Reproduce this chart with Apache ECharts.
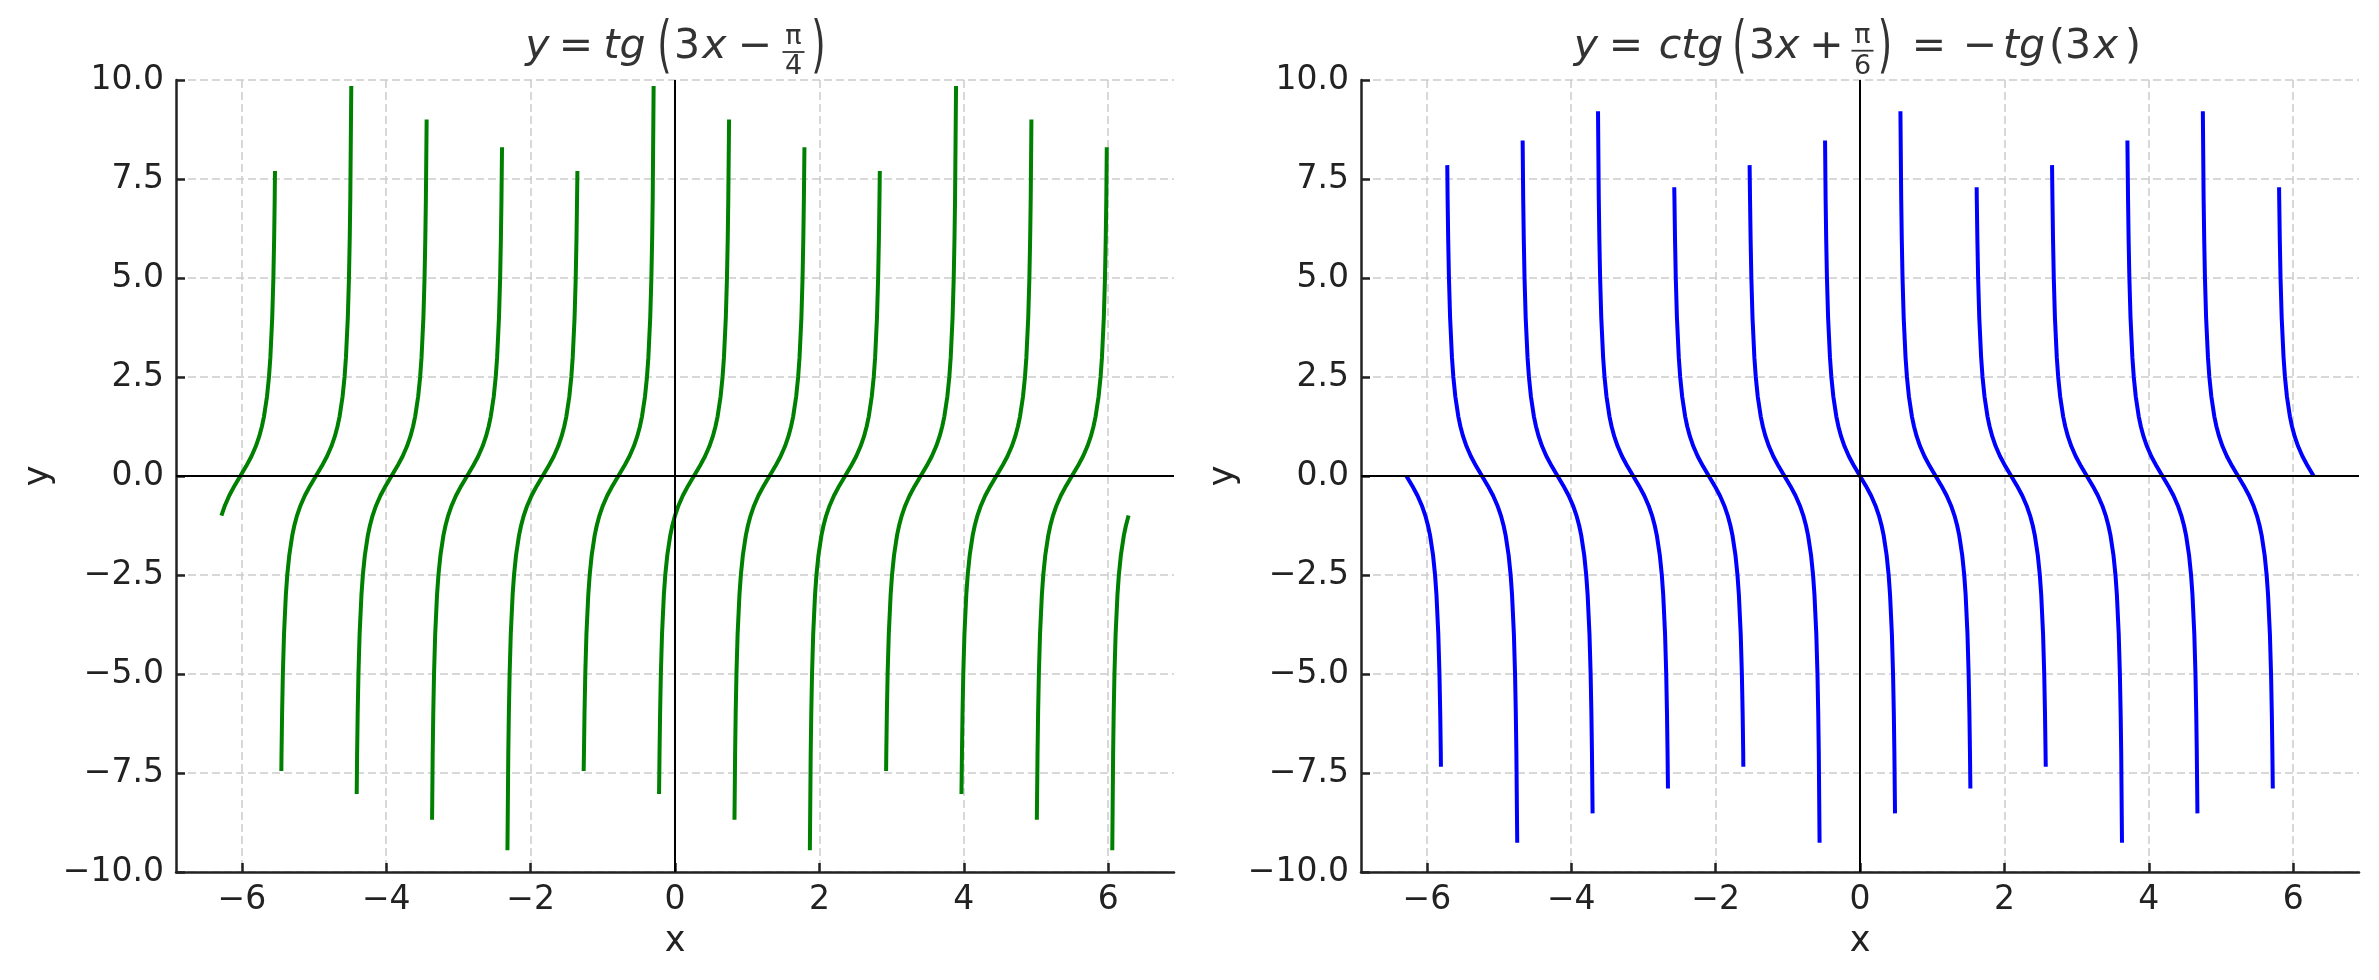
<!DOCTYPE html>
<html>
<head>
<meta charset="utf-8">
<script src="https://cdn.jsdelivr.net/npm/echarts@6/dist/echarts.min.js"></script>
<style>
html,body{margin:0;padding:0;background:#fff;}
#chart{width:2379px;height:980px;}
</style>
</head>
<body>
<div id="chart"></div>
<script>
// ---------------- data ----------------
const xTicks = [-6, -4, -2, 0, 2, 4, 6];
const xRange = [-6.912, 6.912];
const yRange = [-10, 10];
const yStep = 2.5;

// shape of one traced branch, relative to its zero crossing
const branchDx = [-0.4763, -0.4685, -0.4578, -0.4419, -0.4163, -0.3968, -0.3690, -0.3276, -0.2987, -0.2618, -0.2145, -0.1545, -0.0817, 0,
                  0.0817, 0.1545, 0.2145, 0.2618, 0.2987, 0.3276, 0.3690, 0.3968, 0.4163, 0.4419, 0.4578, 0.4685, 0.4763];
const riseY = [-7, -6, -5, -4, -3, -2.5, -2, -1.5, -1.25, -1, -0.75, -0.5, -0.25, 0,
               0.25, 0.5, 0.75, 1, 1.25, 1.5, 2, 2.5, 3, 4, 5, 6, 7];
const fallY = [7, 6, 5, 4, 3, 2.5, 2, 1.5, 1.25, 1, 0.75, 0.5, 0.25, 0,
               -0.25, -0.5, -0.75, -1, -1.25, -1.5, -2, -2.5, -3, -4, -5, -6, -7];

// left panel: y = tg(3x − π/4)
const tgCenters = [-6.021, -4.974, -3.927, -2.880, -1.833, -0.785, 0.262, 1.309, 2.356, 3.403, 4.451, 5.498, 6.545];
const tgStart = [[-6.283, -1], [-5.453, -7.45], [-4.409, -8.03], [-3.365, -8.68], [-2.321, -9.45], [-1.265, -7.45], [-0.221, -8.03], [0.824, -8.68], [1.868, -9.45], [2.924, -7.45], [3.968, -8.03], [5.012, -8.68], [6.057, -9.45]];
const tgEnd = [[-5.541, 7.7], [-4.484, 9.85], [-3.440, 9.0], [-2.396, 8.3], [-1.352, 7.7], [-0.296, 9.85], [0.749, 9.0], [1.793, 8.3], [2.837, 7.7], [3.893, 9.85], [4.937, 9.0], [5.981, 8.3], [6.283, -1]];

// right panel: y = ctg(3x + π/6) = −tg(3x)
const ctgCenters = [-6.283, -5.236, -4.189, -3.142, -2.094, -1.047, 0, 1.047, 2.094, 3.142, 4.189, 5.236, 6.283];
const ctgStart = [[-6.283, 0], [-5.717, 7.85], [-4.673, 8.47], [-3.629, 9.21], [-2.573, 7.29], [-1.529, 7.85], [-0.484, 8.47], [0.560, 9.21], [1.616, 7.29], [2.660, 7.85], [3.704, 8.47], [4.749, 9.21], [5.805, 7.29]];
const ctgEnd = [[-5.805, -7.34], [-4.748, -9.26], [-3.704, -8.52], [-2.660, -7.89], [-1.616, -7.34], [-0.560, -9.26], [0.485, -8.52], [1.529, -7.89], [2.573, -7.34], [3.629, -9.26], [4.674, -8.52], [5.718, -7.89], [6.283, 0]];

// ---------------- build ----------------
function buildBranches(centers, starts, ends, shapeY) {
  return centers.map((c, i) => {
    const s = starts[i], e = ends[i];
    const pts = [s.slice()];
    branchDx.forEach((dx, j) => {
      const x = c + dx;
      if (x > s[0] + 0.001 && x < e[0] - 0.001) pts.push([x, shapeY[j]]);
    });
    pts.push(e.slice());
    return pts;
  });
}
const tgData = buildBranches(tgCenters, tgStart, tgEnd, riseY);
const ctgData = buildBranches(ctgCenters, ctgStart, ctgEnd, fallY);

const FONT = 'DejaVu Sans';
const minus = s => String(s).replace('-', '\u2212');

function makeXAxis(gi) {
  return {
    type: 'value', gridIndex: gi, min: xRange[0], max: xRange[1],
    name: 'x', nameLocation: 'middle', nameGap: 52,
    nameTextStyle: {fontFamily: FONT, fontSize: 35, color: '#222'},
    axisLine: {show: true, onZero: false, lineStyle: {color: '#222', width: 2.5}},
    axisTick: {show: true, inside: true, length: 9, customValues: xTicks, lineStyle: {color: '#222', width: 2.5}},
    axisLabel: {show: true, customValues: xTicks, margin: 12, fontFamily: FONT, fontSize: 33, color: '#222',
      formatter: v => minus(v)},
    splitLine: {show: true, lineStyle: {color: '#cccccc', width: 1.5, type: [8, 4]}}
  };
}
function makeYAxis(gi) {
  return {
    type: 'value', gridIndex: gi, min: yRange[0], max: yRange[1], interval: yStep,
    name: 'y', nameLocation: 'middle', nameGap: 120,
    nameTextStyle: {fontFamily: FONT, fontSize: 35, color: '#222'},
    axisLine: {show: true, onZero: false, lineStyle: {color: '#222', width: 2.5}},
    axisTick: {show: true, inside: true, length: 9, lineStyle: {color: '#222', width: 2.5}},
    axisLabel: {show: true, margin: 12, fontFamily: FONT, fontSize: 33, color: '#222',
      formatter: v => minus(v.toFixed(1))},
    splitLine: {show: true, lineStyle: {color: '#cccccc', width: 1.5, type: [8, 4]}}
  };
}

function makeSeries(data, gi, color) {
  return data.map((pts, i) => {
    const s = {
      type: 'line', xAxisIndex: gi, yAxisIndex: gi, data: pts,
      showSymbol: false, symbol: 'none', smooth: false,
      lineStyle: {color: color, width: 4, join: 'round', cap: 'butt'}, itemStyle: {color: color},
      silent: true, z: 3
    };
    if (i === 0) {
      s.markLine = {
        silent: true, symbol: 'none', animation: false,
        label: {show: false},
        lineStyle: {color: '#000', width: 2, type: 'solid'},
        data: [{xAxis: 0}, {yAxis: 0}]
      };
    }
    return s;
  });
}

// ---------------- title (math-like) ----------------
const TITLE_Y = 47;
const MAIN = 41, SMALL = 27;
function tok(text, cx, opts) {
  opts = opts || {};
  const el = {
    type: 'text', x: cx, y: opts.y != null ? opts.y : TITLE_Y, silent: true,
    style: {
      text: text, x: 0, y: 0, align: 'center', verticalAlign: 'middle',
      fontFamily: FONT, fontSize: opts.size || MAIN, fontStyle: opts.italic ? 'italic' : 'normal',
      fill: '#333333'
    }
  };
  if (opts.sy) { el.scaleY = opts.sy; el.scaleX = opts.sx || 1; }
  return el;
}
function frac(num, den, cx, numY, barY, denY) {
  return [
    tok(num, cx, {size: SMALL, y: numY}),
    {type: 'line', silent: true, shape: {x1: cx - 11, y1: barY, x2: cx + 11, y2: barY},
      style: {stroke: '#333333', lineWidth: 1.8}},
    tok(den, cx, {size: SMALL, y: denY})
  ];
}
const LC = 675, RC = 1860;
const BIG = {sy: 1.5, sx: 0.9, size: MAIN};
const titleEls = [
  tok('y', LC - 137.5, {italic: true}),
  tok('=', LC - 99),
  tok('tg', LC - 50.5, {italic: true}),
  tok('(', LC - 10.5, Object.assign({y: 49.5}, BIG)),
  tok('3', LC + 12),
  tok('x', LC + 39.5, {italic: true}),
  tok('\u2212', LC + 80),
  ...frac('\u03c0', '4', LC + 118.5, 37, 52, 66.5),
  tok(')', LC + 143.5, Object.assign({y: 49.5}, BIG)),

  tok('y', RC - 274, {italic: true}),
  tok('=', RC - 234),
  tok('ctg', RC - 169, {italic: true}),
  tok('(', RC - 120.5, Object.assign({y: 49.5}, BIG)),
  tok('3', RC - 98),
  tok('x', RC - 72.5, {italic: true}),
  tok('+', RC - 33.5),
  ...frac('\u03c0', '6', RC + 2.5, 36, 50.7, 66.5),
  tok(')', RC + 25, Object.assign({y: 49.5}, BIG)),
  tok('=', RC + 69),
  tok('\u2212', RC + 120),
  tok('tg', RC + 164, {italic: true}),
  tok('(', RC + 197),
  tok('3', RC + 218),
  tok('x', RC + 246, {italic: true}),
  tok(')', RC + 273)
];

const chart = echarts.init(document.getElementById('chart'), null, {renderer: 'canvas'});
chart.setOption({
  animation: false,
  backgroundColor: '#ffffff',
  grid: [
    {left: 176, top: 80, width: 998, height: 792, outerBoundsMode: 'none', containLabel: false},
    {left: 1361, top: 80, width: 998, height: 792, outerBoundsMode: 'none', containLabel: false}
  ],
  xAxis: [makeXAxis(0), makeXAxis(1)],
  yAxis: [makeYAxis(0), makeYAxis(1)],
  series: [...makeSeries(tgData, 0, '#008000'), ...makeSeries(ctgData, 1, '#0000ff')],
  graphic: titleEls
});
</script>
</body>
</html>
